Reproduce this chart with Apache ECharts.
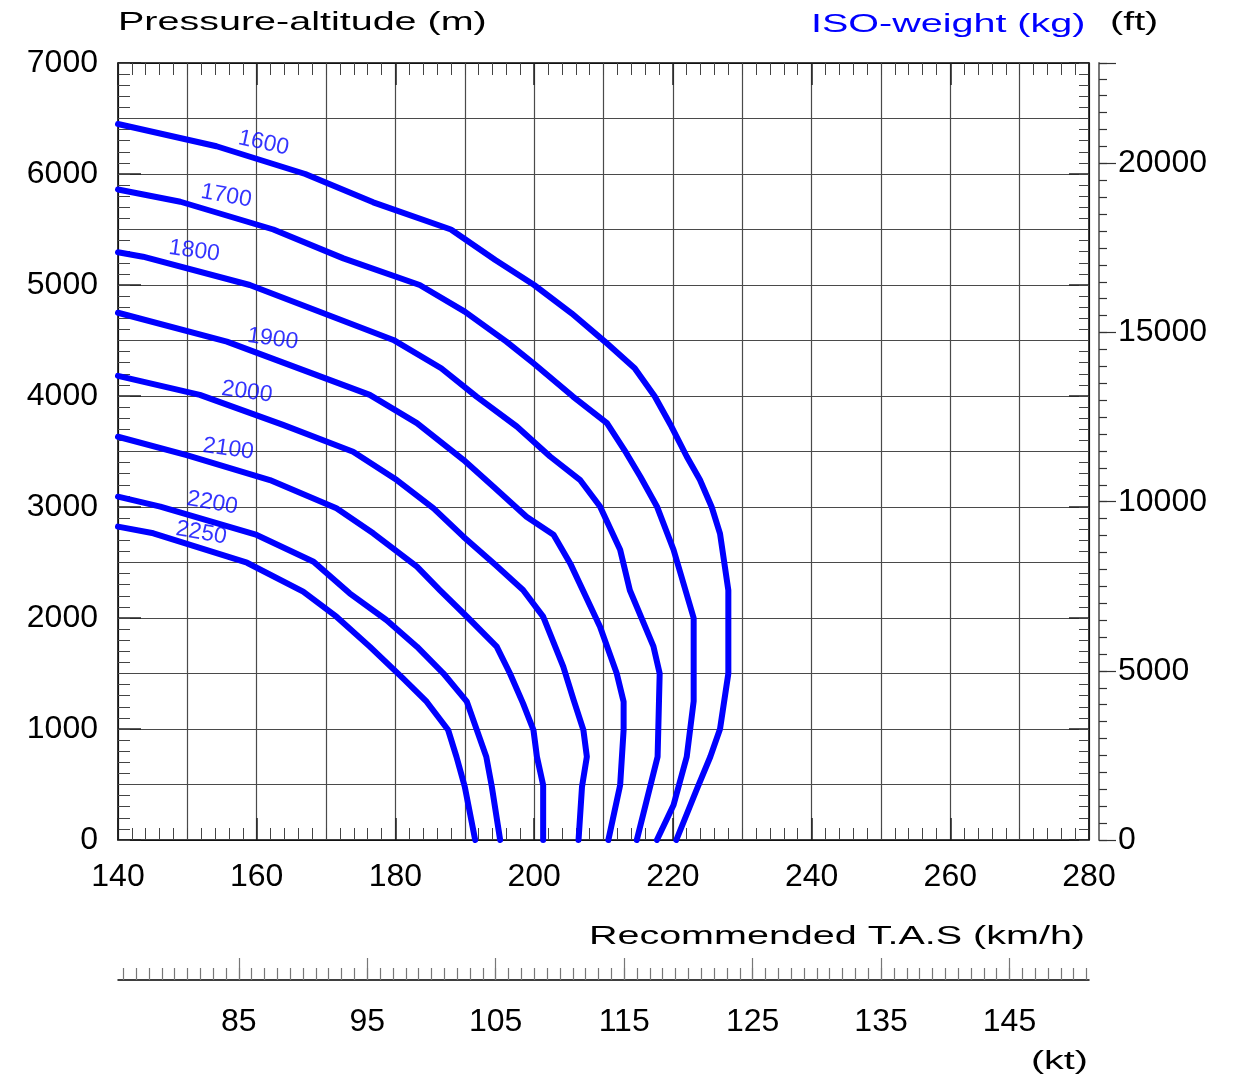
<!DOCTYPE html>
<html>
<head>
<meta charset="utf-8">
<script src="https://cdn.jsdelivr.net/npm/echarts@6/dist/echarts.min.js"></script>
<style>
html,body{margin:0;padding:0;background:#fff;}
#chart{width:1243px;height:1079px;}
</style>
</head>
<body>
<div id="chart"></div>
<script>
// ISO-weight curves: [T.A.S km/h, pressure altitude m]
var weights = ['1600','1700','1800','1900','2000','2100','2200','2250'];
var w1600 = [[140,6450],[154.2,6250],[167,6000],[176.8,5745],[188,5500],[194.4,5225],[200,5000],[205.4,4745],[210.2,4490],[214.5,4250],[217.4,3995],[219.8,3725],[222,3455],[223.9,3245],[225.6,3000],[226.8,2760],[228,2250],[228,1500],[226.8,1000],[225.4,750],[223.4,450],[220.5,0]];
var w1700 = [[140,5860],[149,5750],[162.4,5500],[172.5,5240],[183.5,5000],[190,4760],[196,4490],[199.9,4295],[205.6,3995],[210.5,3755],[213.3,3485],[215.3,3275],[217.7,3005],[220.1,2615],[223,2000],[223,1250],[222,750],[220.1,315],[217.7,0]];
var w1800 = [[140,5295],[143.6,5255],[159,5000],[179.7,4505],[186.6,4250],[191.7,3995],[197.5,3725],[202.3,3455],[206.6,3245],[209.5,3005],[212.4,2615],[213.8,2250],[217.2,1745],[218.1,1500],[218,1250],[217.8,750],[214.8,0]];
var w1900 = [[140,4750],[155.7,4490],[176.3,4010],[183.1,3755],[189.8,3425],[194.1,3185],[198.9,2912],[202.8,2750],[205.2,2492],[209.5,1922],[211.9,1502],[212.9,1246],[212.9,991],[212.4,495],[210.7,0]];
var w2000 = [[140,4182],[151.8,4010],[163.8,3740],[173.9,3498],[180.2,3243],[185.5,2988],[189.8,2733],[194.4,2480],[198.4,2252],[201.3,2012],[204.2,1562],[205.7,1261],[207.1,991],[207.6,750],[206.9,480],[206.4,0]];
var w2100 = [[140,3633],[149.9,3468],[161.9,3243],[171.5,2988],[176.8,2763],[183.1,2462],[186.4,2252],[190.5,2000],[194.6,1742],[196.5,1502],[198.4,1231],[199.9,991],[200.4,750],[201.3,495],[201.3,0]];
var w2200 = [[140,3093],[146.1,3003],[160,2748],[168.2,2507],[173.4,2222],[178.7,1982],[183.1,1742],[186.9,1502],[190.3,1246],[193.1,750],[193.9,480],[195.1,0]];
var w2250 = [[140,2823],[145.1,2763],[158.6,2498],[166.7,2237],[171.5,2012],[176.3,1742],[181.1,1456],[184.5,1246],[187.6,991],[188.8,750],[190,480],[191.5,0]];
var curves = [w1600,w1700,w1800,w1900,w2000,w2100,w2200,w2250];

// curve label anchors [km/h, m] and rotation (deg)
var labelPos = [[161.0,6279],[155.6,5802],[151.0,5306],[162.3,4514],[158.6,4036],[155.9,3523],[153.6,3036],[152.0,2766]];
var labelRot = [-12,-10,-8,-8,-8,-8,-10,-10];

// tick labels
var kmhTicks = [140,160,180,200,220,240,260,280];
var altTicks = [0,1000,2000,3000,4000,5000,6000,7000];
var ftTicks = [0,5000,10000,15000,20000];
var ktMajor = [85,95,105,115,125,135,145];
var ktMinor = [];
for (var k = 76; k <= 151; k++) ktMinor.push(k);

var FONT = '"Liberation Sans", Arial, sans-serif';
var GRID = '#4a4a4a';
var BLUE = '#0000ff';
var plain = function (v) { return String(Math.round(v)); };

var chart = echarts.init(document.getElementById('chart'));

var series = curves.map(function (c, i) {
  return {
    type: 'line', name: weights[i], xAxisIndex: 0, yAxisIndex: 0,
    data: c, showSymbol: false, symbol: 'none', smooth: false,
    lineStyle: { color: BLUE, width: 6, cap: 'round', join: 'round' },
    z: 5, silent: true
  };
});
series.push({
  type: 'scatter', xAxisIndex: 0, yAxisIndex: 0, symbolSize: 0, silent: true, z: 6,
  data: labelPos.map(function (p, i) {
    return { value: p, name: weights[i], label: { rotate: labelRot[i] } };
  }),
  label: { show: true, position: 'inside', formatter: '{b}', color: BLUE, fontSize: 23, fontFamily: FONT }
});

var hx = function (extra) {
  return Object.assign({
    type: 'value', gridIndex: 0, min: 140, max: 280,
    axisLine: { show: false, onZero: false }, axisTick: { show: false },
    axisLabel: { show: false }, splitLine: { show: false }, minorTick: { show: false }
  }, extra);
};
var hy = function (extra) {
  return Object.assign({
    type: 'value', gridIndex: 0, min: 0, max: 7000,
    axisLine: { show: false, onZero: false }, axisTick: { show: false },
    axisLabel: { show: false }, splitLine: { show: false }, minorTick: { show: false }
  }, extra);
};
var FTMAX = 7000 / 0.3048;
var LBL = { fontSize: 32, color: '#000', fontFamily: FONT, formatter: plain };

var option = {
  animation: false,
  backgroundColor: '#fff',
  grid: [
    { left: 118, top: 63, width: 971, height: 777, containLabel: false },
    { left: 118, top: 940, width: 971, height: 40, containLabel: false }
  ],
  xAxis: [
    hx({ position: 'bottom', interval: 20,
      axisLine: { show: true, onZero: false, lineStyle: { color: '#000', width: 1.5 } },
      axisTick: { show: true, inside: true, length: 22, lineStyle: { color: '#222', width: 1.5 } },
      minorTick: { show: true, splitNumber: 10, length: 12, lineStyle: { color: '#444', width: 1 } },
      axisLabel: Object.assign({ show: true, customValues: kmhTicks, margin: 21 }, LBL)
    }),
    hx({ position: 'bottom', interval: 10,
      splitLine: { show: true, lineStyle: { color: GRID, width: 1.2 } } }),
    hx({ position: 'top', interval: 20,
      axisLine: { show: true, onZero: false, lineStyle: { color: '#000', width: 1.5 } },
      axisTick: { show: true, inside: true, length: 22, lineStyle: { color: '#222', width: 1.5 } },
      minorTick: { show: true, splitNumber: 10, length: 12, lineStyle: { color: '#444', width: 1 } }
    }),
    { type: 'value', gridIndex: 1, position: 'bottom', min: 140 / 1.852, max: 280 / 1.852,
      axisLine: { show: true, onZero: false, lineStyle: { color: '#000', width: 1.5 } },
      axisTick: { show: true, inside: true, length: 12, customValues: ktMinor, lineStyle: { color: '#777', width: 1.2 } },
      axisLabel: { show: false }, splitLine: { show: false } },
    { type: 'value', gridIndex: 1, position: 'bottom', min: 140 / 1.852, max: 280 / 1.852,
      axisLine: { show: false, onZero: false },
      axisTick: { show: true, inside: true, length: 22, customValues: ktMajor, lineStyle: { color: '#777', width: 1.2 } },
      axisLabel: Object.assign({ show: true, customValues: ktMajor, margin: 26 }, LBL),
      splitLine: { show: false } }
  ],
  yAxis: [
    hy({ position: 'left', interval: 1000,
      axisLine: { show: true, onZero: false, lineStyle: { color: '#000', width: 1.5 } },
      axisTick: { show: true, inside: true, length: 23, lineStyle: { color: '#222', width: 1.5 } },
      axisLabel: Object.assign({ show: true, customValues: altTicks, margin: 20 }, LBL)
    }),
    hy({ position: 'left', interval: 500,
      splitLine: { show: true, lineStyle: { color: GRID, width: 1.2 } },
      axisTick: { show: true, inside: true, length: 12, lineStyle: { color: '#444', width: 1 } },
      minorTick: { show: true, splitNumber: 5, length: 12, lineStyle: { color: '#444', width: 1 } }
    }),
    hy({ position: 'right', interval: 1000,
      axisLine: { show: true, onZero: false, lineStyle: { color: '#000', width: 1.5 } },
      axisTick: { show: true, inside: true, length: 20, lineStyle: { color: '#222', width: 1.5 } }
    }),
    hy({ position: 'right', interval: 500,
      axisTick: { show: true, inside: true, length: 10, lineStyle: { color: '#444', width: 1 } },
      minorTick: { show: true, splitNumber: 5, length: 10, lineStyle: { color: '#444', width: 1 } }
    }),
    { type: 'value', gridIndex: 0, position: 'right', offset: 10, min: 0, max: FTMAX, interval: 500,
      axisLine: { show: true, onZero: false, lineStyle: { color: '#777', width: 2 } },
      axisTick: { show: true, inside: false, length: 8, lineStyle: { color: '#333', width: 1.2 } },
      axisLabel: { show: false }, splitLine: { show: false } },
    { type: 'value', gridIndex: 0, position: 'right', offset: 10, min: 0, max: FTMAX, interval: 5000,
      axisLine: { show: false, onZero: false },
      axisTick: { show: true, inside: false, length: 17, lineStyle: { color: '#333', width: 1.2 } },
      axisLabel: Object.assign({ show: true, customValues: ftTicks, margin: 19 }, LBL),
      splitLine: { show: false } },
    { type: 'value', gridIndex: 1, show: false, min: 0, max: 1 }
  ],
  graphic: [
    { type: 'text', x: 118, y: 23, scaleX: 1.58, silent: true,
      style: { text: 'Pressure-altitude (m)', fill: '#000', font: '25px ' + FONT, fontSize: 25, fontFamily: FONT,
        textAlign: 'left', align: 'left', textVerticalAlign: 'middle', verticalAlign: 'middle' } },
    { type: 'text', x: 811, y: 25, scaleX: 1.58, silent: true,
      style: { text: 'ISO-weight (kg)', fill: BLUE, font: '25px ' + FONT, fontSize: 25, fontFamily: FONT,
        textAlign: 'left', align: 'left', textVerticalAlign: 'middle', verticalAlign: 'middle' } },
    { type: 'text', x: 1110, y: 23, scaleX: 1.58, silent: true,
      style: { text: '(ft)', fill: '#000', font: '25px ' + FONT, fontSize: 25, fontFamily: FONT,
        textAlign: 'left', align: 'left', textVerticalAlign: 'middle', verticalAlign: 'middle' } },
    { type: 'text', x: 1085, y: 937, scaleX: 1.58, silent: true,
      style: { text: 'Recommended T.A.S (km/h)', fill: '#000', font: '25px ' + FONT, fontSize: 25, fontFamily: FONT,
        textAlign: 'right', align: 'right', textVerticalAlign: 'middle', verticalAlign: 'middle' } },
    { type: 'text', x: 1088, y: 1062, scaleX: 1.58, silent: true,
      style: { text: '(kt)', fill: '#000', font: '25px ' + FONT, fontSize: 25, fontFamily: FONT,
        textAlign: 'right', align: 'right', textVerticalAlign: 'middle', verticalAlign: 'middle' } }
  ],
  series: series
};
chart.setOption(option);
</script>
</body>
</html>
